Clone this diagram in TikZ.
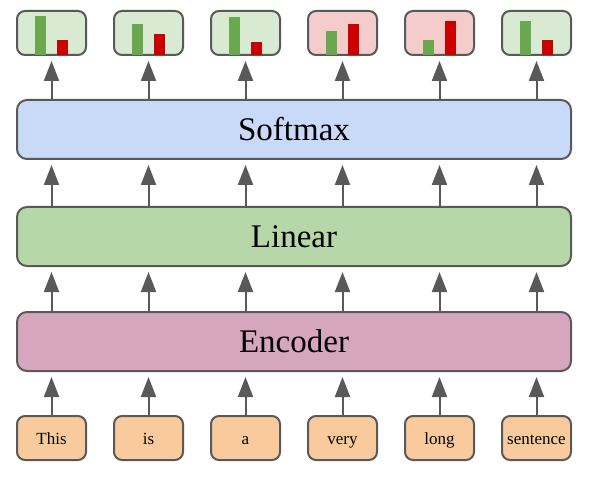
\documentclass[tikz,border=0pt]{standalone}
\usepackage{fontspec}
\setmainfont{Liberation Serif}
\usetikzlibrary{arrows.meta, positioning}
\definecolor{edge}{HTML}{595959}
\definecolor{smcol}{HTML}{C9DAF8}
\definecolor{lincol}{HTML}{B6D7A8}
\definecolor{enccol}{HTML}{D5A6BD}
\definecolor{wordcol}{HTML}{F9CB9C}
\definecolor{goodcol}{HTML}{D9EAD3}
\definecolor{badcol}{HTML}{F4CCCC}
\definecolor{gbar}{HTML}{6AA84F}
\definecolor{rbar}{HTML}{CC0000}

\begin{document}
\begin{tikzpicture}[x=1pt, y=1pt,
    box/.style={draw=edge, line width=2pt, rounded corners=8pt,
      minimum width=69pt, minimum height=44pt, inner sep=0pt},
    word/.style={box, fill=wordcol, font=\fontsize{17}{20}\selectfont,
      text height=14pt, text depth=2pt},
    layer/.style={draw=edge, line width=2pt, rounded corners=10pt,
      minimum width=554pt, minimum height=59pt, font=\fontsize{33}{38}\selectfont,
      text height=24pt, text depth=2pt},
    up/.style={draw=edge, line width=2pt, -{Triangle[width=15pt, length=20pt]}, shorten >=5pt}]
  \useasboundingbox (0,0) rectangle (591,477);
  \node[layer, fill=enccol] (enc) at (294,135.5) {Encoder};
  \node[layer, fill=lincol] (lin) at (294,240.5) {Linear};
  \node[layer, fill=smcol] (sm) at (294,347.5) {Softmax};
  \foreach \i/\txt/\g/\r/\kind in {1/This/39/15/good, 2/is/31/21/good, 3/a/38/13/good,
      4/very/24/31/bad, 5/long/15/34/bad, 6/sentence/34/15/good} {
    \node[word] (w\i) at (\i*97-45.5,39) {\txt};
    \node[box, fill=\kind col] (p\i) at (\i*97-45.5,444) {};
    % bars
    \fill[gbar] ([xshift=-16.5pt, yshift=1pt]p\i.south) rectangle ++(11,\g);
    \fill[rbar] ([xshift=5.5pt, yshift=1pt]p\i.south) rectangle ++(11,\r);
    \draw[up] (w\i.north) -- (w\i.north |- enc.south);
    \draw[up] (enc.north -| w\i) -- (lin.south -| w\i);
    \draw[up] (lin.north -| w\i) -- (sm.south -| w\i);
    \draw[up] (sm.north -| w\i) -- (p\i.south);
  }
\end{tikzpicture}
\end{document}
